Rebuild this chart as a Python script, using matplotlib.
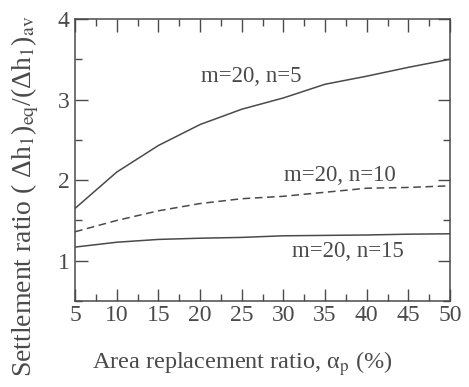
import matplotlib
matplotlib.use("Agg")
import matplotlib.pyplot as plt
from matplotlib.ticker import MultipleLocator

plt.rcParams['font.family'] = ['Liberation Serif', 'DejaVu Serif']
plt.rcParams['mathtext.fontset'] = 'stix'

# data
alpha_p = [5, 10, 15, 20, 25, 30, 35, 40, 45, 50]
ratio_n5 = [1.65, 2.10, 2.43, 2.69, 2.88, 3.02, 3.19, 3.29, 3.40, 3.50]
ratio_n10 = [1.36, 1.50, 1.62, 1.71, 1.77, 1.80, 1.85, 1.90, 1.91, 1.93]
ratio_n15 = [1.17, 1.23, 1.265, 1.28, 1.29, 1.31, 1.315, 1.32, 1.33, 1.335]

ink = '#4a4a4a'

fig = plt.figure(figsize=(4.69, 3.87), dpi=100)
ax = fig.add_axes([0.160, 0.222, 0.7995, 0.729])

ax.plot(alpha_p, ratio_n5, '-', color=ink, lw=1.1)
ax.plot(alpha_p, ratio_n10, '--', color=ink, lw=1.1, dashes=(5, 3))
ax.plot(alpha_p, ratio_n15, '-', color=ink, lw=1.1)

ax.text(26.2, 3.28, 'm=20, n=5', fontsize=16.5, color=ink, ha='center', va='center')
ax.text(36.8, 2.06, 'm=20, n=10', fontsize=16.5, color=ink, ha='center', va='center')
ax.text(37.8, 1.11, 'm=20, n=15', fontsize=16.5, color=ink, ha='center', va='center')

ax.set_xlim(5, 50)
ax.set_ylim(0.5, 4)
ax.xaxis.set_major_locator(MultipleLocator(5))
ax.xaxis.set_minor_locator(MultipleLocator(2.5))
ax.yaxis.set_major_locator(MultipleLocator(1))
ax.yaxis.set_minor_locator(MultipleLocator(0.5))
ax.tick_params(which='both', direction='in', top=True, right=True, colors=ink, labelsize=17)
ax.tick_params(which='major', length=9, width=1.0)
ax.tick_params(which='minor', length=5, width=1.0)
ax.tick_params(axis='x', pad=3)
ax.tick_params(axis='y', pad=4)
for s in ax.spines.values():
    s.set_color(ink)
    s.set_linewidth(1.1)

ax.set_xlabel('Area replacement ratio, α$_{\\rm p}$ (%)', fontsize=17.5, color=ink)
ax.xaxis.label.set_va('center')
ax.xaxis.set_label_coords(0.445, -0.22)
ax.set_ylabel('Settlement ratio ( Δh$_1$)$_{\\rm eq}$/(Δh$_1$)$_{\\rm av}$',
              fontsize=20, color=ink)
ax.yaxis.label.set_va('center')
ax.yaxis.set_label_coords(-0.133, 0.372)

fig.savefig('out.png', dpi=100)
